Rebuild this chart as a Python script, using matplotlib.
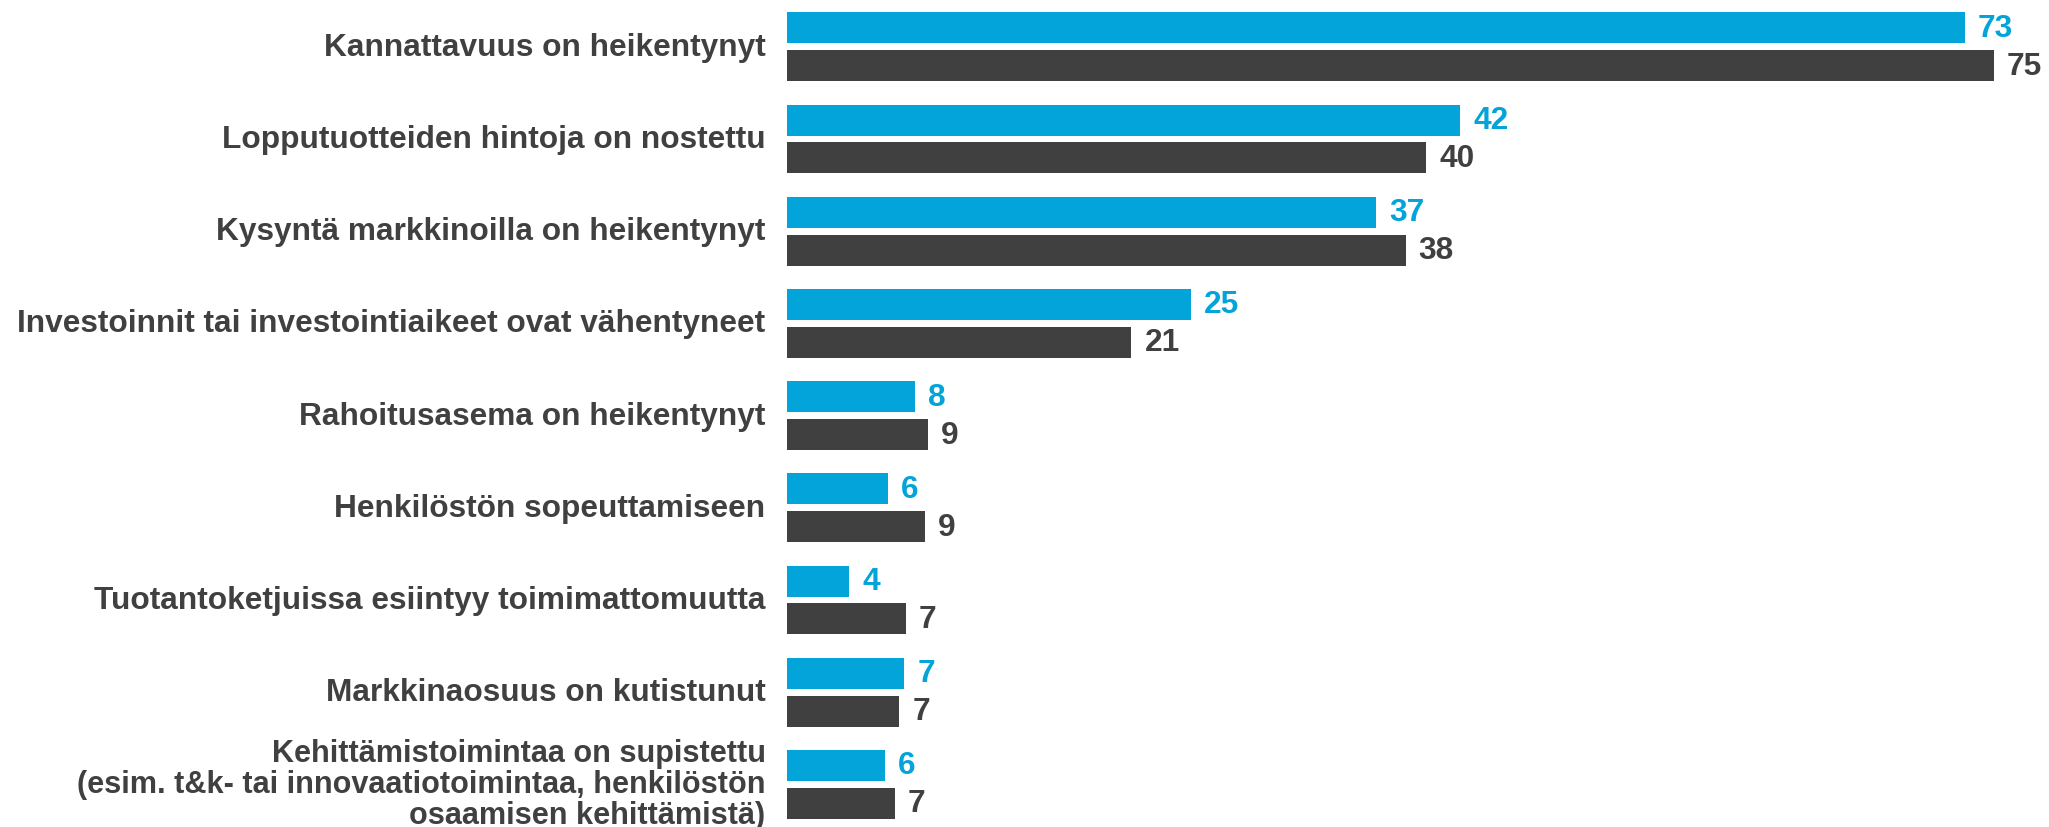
import numpy as np
import matplotlib
matplotlib.use("Agg")
import matplotlib.pyplot as plt

plt.rcParams['font.family'] = ['Liberation Sans', 'DejaVu Sans']

categories = [
    "Kannattavuus on heikentynyt",
    "Lopputuotteiden hintoja on nostettu",
    "Kysyntä markkinoilla on heikentynyt",
    "Investoinnit tai investointiaikeet ovat vähentyneet",
    "Rahoitusasema on heikentynyt",
    "Henkilöstön sopeuttamiseen",
    "Tuotantoketjuissa esiintyy toimimattomuutta",
    "Markkinaosuus on kutistunut",
    "Kehittämistoimintaa on supistettu\n(esim. t&k- tai innovaatiotoimintaa, henkilöstön\nosaamisen kehittämistä)",
]
blue_vals = [73.1, 41.8, 36.6, 25.1, 8.0, 6.3, 3.9, 7.3, 6.1]
dark_vals = [74.9, 39.7, 38.4, 21.4, 8.8, 8.6, 7.4, 7.0, 6.7]

blue = '#02A4D9'
dark = '#404040'

W, H = 2049, 828
fig = plt.figure(figsize=(W / 100, H / 100), dpi=100)
left = 786.5 / W
ax = fig.add_axes([left, 0, 1 - left, 1])

y = np.arange(len(categories))
h = 0.336
off = 0.2055

ax.barh(y - off, blue_vals, height=h, color=blue)
ax.barh(y + off, dark_vals, height=h, color=dark)

ax.set_xlim(0, (W - 786.5) / 16.12)
ax.set_ylim(8.462, -0.518)
ax.axis('off')

fs = 22.8
for i in range(len(categories)):
    ax.annotate(f"{blue_vals[i]:.0f}", (blue_vals[i], y[i] - off), xytext=(13, 0),
                textcoords='offset pixels', ha='left', va='center',
                fontsize=fs, fontweight='bold', color=blue)
    ax.annotate(f"{dark_vals[i]:.0f}", (dark_vals[i], y[i] + off), xytext=(13, 0),
                textcoords='offset pixels', ha='left', va='center',
                fontsize=fs, fontweight='bold', color=dark)
    # last label is three lines, a bit smaller
    multi = "\n" in categories[i]
    ax.annotate(categories[i], (0, y[i]), xycoords=('axes fraction', 'data'),
                xytext=(-21, 0), textcoords='offset pixels', ha='right', va='center',
                multialignment='right', linespacing=1.04,
                fontsize=22.1 if multi else fs, fontweight='bold', color=dark,
                annotation_clip=False)

fig.savefig("out.png", dpi=100)
